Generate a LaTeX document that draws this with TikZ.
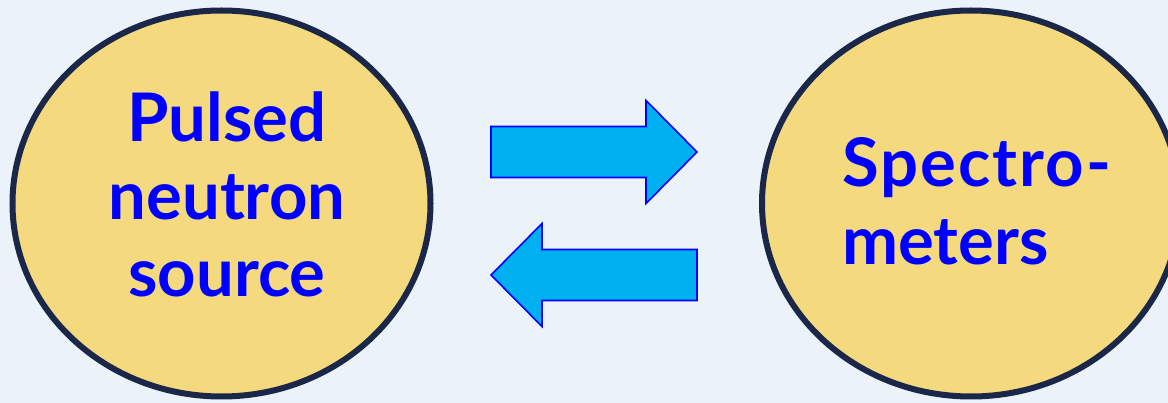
\documentclass[tikz,border=0pt]{standalone}
\usepackage{fontspec}
\setmainfont{Lato}
\usetikzlibrary{shapes.geometric}
\definecolor{bgblue}{HTML}{EBF2FA}
\definecolor{discfill}{HTML}{F4D97E}
\definecolor{discline}{HTML}{1B2748}
\definecolor{textblue}{HTML}{0000FF}
\definecolor{arrowfill}{HTML}{00B0F0}
\begin{document}
\begin{tikzpicture}[x=1pt,y=-1pt,
  disc/.style={ellipse, fill=discfill, draw=discline, line width=6pt,
    minimum width=418pt, minimum height=386pt, inner sep=0pt},
  lbl/.style={text=textblue, font=\fontsize{67}{77}\selectfont\bfseries, inner sep=0pt},
  bigarrow/.style={fill=arrowfill, draw=textblue, line width=1.6pt, line join=miter}]
\fill[bgblue] (0,0) rectangle (1168,403);
\useasboundingbox (0,0) rectangle (1168,403);
\begin{scope}
  \clip (0,0) rectangle (1168,403);
  % the two circles
  \node[disc] (src) at (221.5,203.5) {};
  \node[disc] (spec) at (971,203.5) {};
  % labels
  \node[lbl, anchor=base] (l1) at (227,142) {Pulsed};
  \node[lbl, anchor=base] (l2) at (227,220) {neutron};
  \node[lbl, anchor=base] (l3) at (227,297) {source};
  \node[lbl, anchor=base west] (r1) at (842,187) {\addfontfeatures{LetterSpace=3}Spectro-};
  \node[lbl, anchor=base west] (r2) at (842,265) {meters};
\end{scope}
% block arrows between the circles
\coordinate (fwd) at (491,152);
\coordinate (bwd) at (697,275);
\draw[bigarrow] (fwd) ++(0,-25.5) -- ++(155,0) -- ++(0,-26) -- ++(51,51.5)
  -- ++(-51,51.5) -- ++(0,-26) -- ++(-155,0) -- cycle;
\draw[bigarrow] (bwd) ++(0,-25.5) -- ++(-155,0) -- ++(0,-26) -- ++(-51,51.5)
  -- ++(51,51.5) -- ++(0,-26) -- ++(155,0) -- cycle;
\end{tikzpicture}
\end{document}
